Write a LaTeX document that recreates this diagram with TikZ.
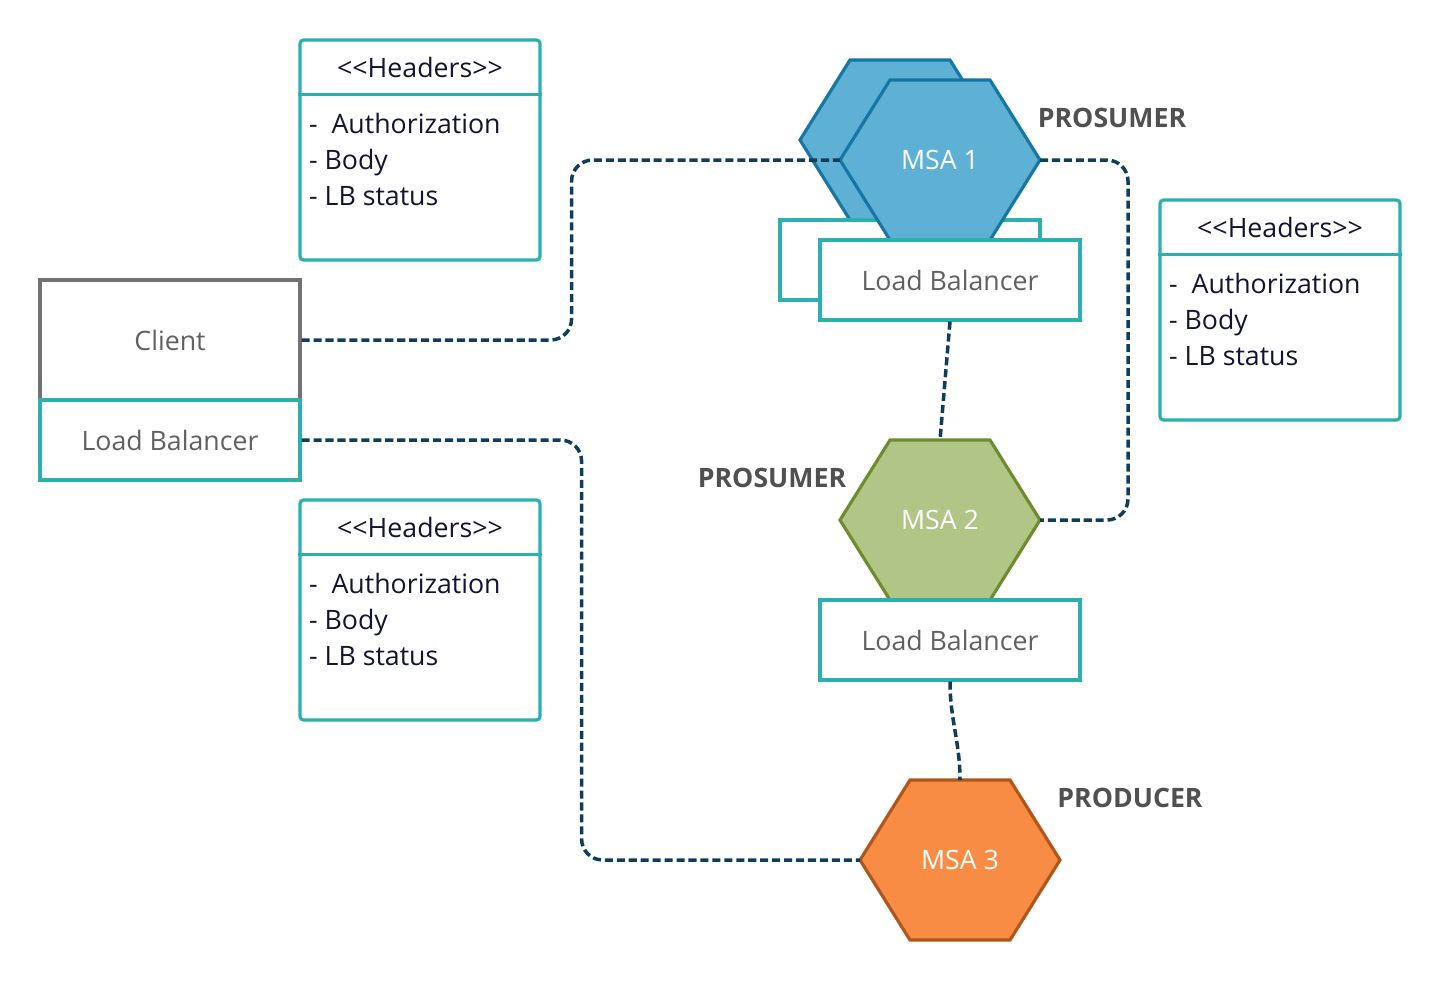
\documentclass[tikz,border=0pt]{standalone}
\usepackage{fontspec}
\setmainfont{Open Sans}
\usetikzlibrary{positioning}

\definecolor{lbteal}{HTML}{2AB0AD}
\definecolor{linknavy}{HTML}{0E3E5C}
\definecolor{msablue}{HTML}{5EB0D5}
\definecolor{msabluedark}{HTML}{1577A3}
\definecolor{msagreen}{HTML}{B1C686}
\definecolor{msagreendark}{HTML}{6E8B2E}
\definecolor{msaorange}{HTML}{F98C44}
\definecolor{msaorangedark}{HTML}{B0561A}
\definecolor{lbtext}{HTML}{606060}
\definecolor{rolegray}{HTML}{505050}
\definecolor{hdrtext}{HTML}{141432}

\tikzset{
	txt/.style={font=\fontsize{7.6}{10.2}\selectfont},
	lbbox/.style={txt, draw=lbteal, line width=0.9pt, fill=white, text=lbtext,
		minimum width=2.6cm, minimum height=0.8cm, inner sep=0pt},
	hdrbox/.style={draw=lbteal, line width=0.9pt, fill=white, rounded corners=1pt,
		minimum width=2.4cm, minimum height=2.2cm, inner sep=0pt},
	msatext/.style={txt, text=white, inner sep=0pt},
	role/.style={txt, font=\fontsize{7.6}{10.2}\selectfont\bfseries, text=rolegray},
	link/.style={draw=linknavy, line width=1pt, dash pattern=on 2.3pt off 1.1pt, rounded corners=6pt}
}

% hexagon: name, x, y, fill, border, text
\newcommand{\msa}[6]{%
	\begin{scope}[shift={(#2,#3)}]
		\draw[line width=0.9pt, fill=#4, draw=#5, line join=miter]
			(-1,0) -- (-0.5,0.8) -- (0.5,0.8) -- (1,0) -- (0.5,-0.8) -- (-0.5,-0.8) -- cycle;
		\coordinate (#1-w) at (-1,0);
		\coordinate (#1-e) at (1,0);
		\coordinate (#1-n) at (0,0.8);
		\node[msatext] (#1) at (0,0) {#6};
	\end{scope}}

\begin{document}
\begin{tikzpicture}
	\useasboundingbox (0,0) rectangle (14.4,-9.8);

	% headers
	\foreach \n/\x/\y in {hdA/4.2/-1.5, hdB/12.8/-3.1, hdC/4.2/-6.1}{
		\node[hdrbox] (\n) at (\x,\y) {};
		\draw[draw=lbteal, line width=0.9pt] ([yshift=-0.56cm]\n.north west) -- ([yshift=-0.56cm]\n.north east);
		\node[txt, text=hdrtext] at ([yshift=-0.29cm]\n.north)
			{\textless\kern0pt\textless Headers\textgreater\kern0pt\textgreater};
		\node[txt, text=hdrtext, align=left, anchor=north west, inner sep=0pt]
			at ([xshift=0.1cm, yshift=-0.74cm]\n.north west) {-\ \ Authorization\\- Body\\- LB status};
	}

	% client
	\node[txt, draw=gray!110, line width=0.9pt, text=lbtext, minimum width=2.6cm,
		minimum height=1.2cm, inner sep=0pt] (client) at (1.7,-3.4) {Client};
	\node[lbbox] (clientlb) at (1.7,-4.4) {Load Balancer};

	% services
	\msa{msa1back}{9.0}{-1.4}{msablue}{msabluedark}{}
	\node[lbbox] (lb1back) at (9.1,-2.6) {};
	\msa{msa1}{9.4}{-1.6}{msablue}{msabluedark}{MSA 1}
	\node[lbbox] (lb1) at (9.5,-2.8) {Load Balancer};

	\msa{msa2}{9.4}{-5.2}{msagreen}{msagreendark}{MSA 2}
	\node[lbbox] (lb2) at (9.5,-6.4) {Load Balancer};

	\msa{msa3}{9.6}{-8.6}{msaorange}{msaorangedark}{MSA 3}

	\node[role] at (11.12,-1.18) {PROSUMER};
	\node[role] at (7.72,-4.78) {PROSUMER};
	\node[role] at (11.30,-7.98) {PRODUCER};

	% links
	\draw[link] (client.east) -- ++(2.7,0) |- (msa1-w);
	\draw[link] (msa1-e) -- ++(0.88,0) |- (msa2-e);
	\draw[link] (lb1.south) -- (msa2-n);
	\draw[link] (lb2.south) to[out=-90, in=90] (msa3-n);
	\draw[link] (clientlb.east) -- ++(2.8,0) |- (msa3-w);
\end{tikzpicture}
\end{document}
